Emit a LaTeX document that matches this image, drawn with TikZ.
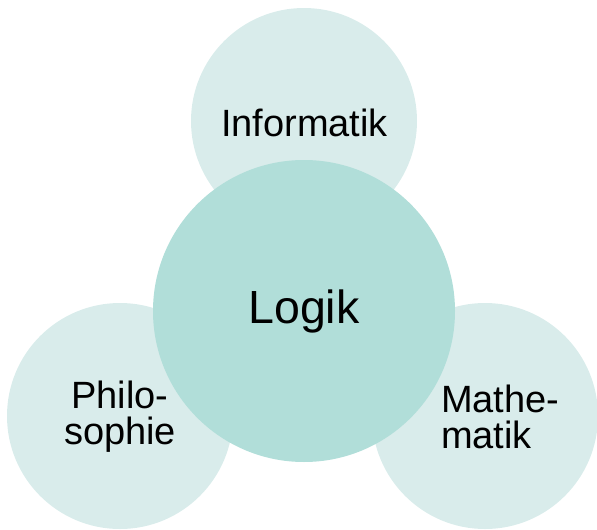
\documentclass[tikz,border=0pt]{standalone}
\usepackage{fontspec}
\setmainfont{Liberation Sans}
\definecolor{outerfill}{HTML}{D9ECEB}
\definecolor{innerfill}{HTML}{B1DED9}
\begin{document}
\begin{tikzpicture}[x=1pt,y=-1pt,
  outercircle/.style={circle,draw=none,fill=outerfill,inner sep=0pt,minimum size=226pt},
  innercircle/.style={circle,draw=none,fill=innerfill,inner sep=0pt,minimum size=302pt},
  labeltext/.style={inner sep=0pt,font=\fontsize{38}{36}\selectfont},
  bigtext/.style={inner sep=0pt,font=\fontsize{46.5}{46}\selectfont}]
\useasboundingbox (0,0) rectangle (597,530);
\node[outercircle] (inf) at (304,121) {};
\node[outercircle] (phil) at (120,416) {};
\node[outercircle] (math) at (485,416) {};
\node[innercircle] (log) at (304,311) {};
\node[labeltext,anchor=base] (inftext) at (304.5,136) {Informatik};
\node[labeltext,align=center,anchor=center] (philtext) at (120,417) {Philo-\\sophie};
\node[labeltext,align=left,anchor=west] (mathtext) at (441,417) {Mathe-\\matik};
\node[bigtext,anchor=base] (logtext) at (304,323) {Logik};
\end{tikzpicture}
\end{document}
